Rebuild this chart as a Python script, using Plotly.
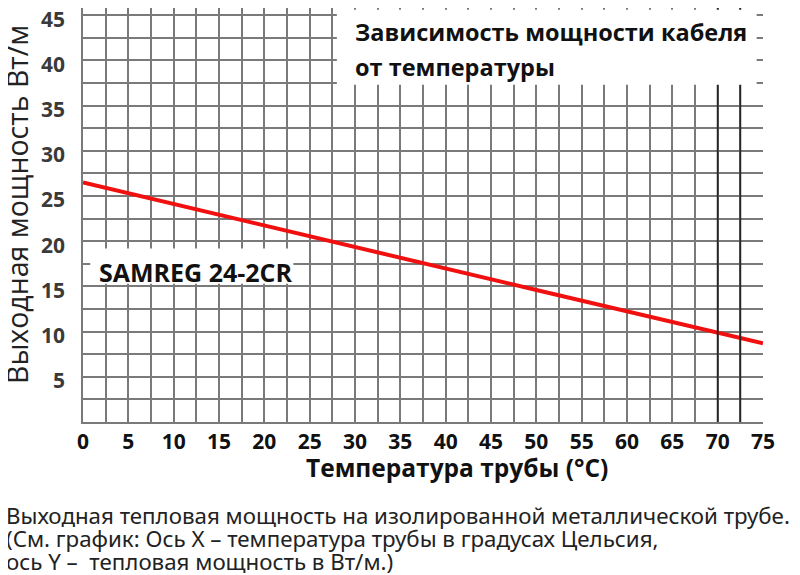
import plotly.graph_objects as go

# Data
temps = [0, 25, 50, 75]
power = [26.5, 20.5, 14.6, 8.7]
x_ticks = [0, 5, 10, 15, 20, 25, 30, 35, 40, 45, 50, 55, 60, 65, 70, 75]
y_ticks = [5, 10, 15, 20, 25, 30, 35, 40, 45]
dark_lines = [70, 72.5]

title_lines = ["Зависимость мощности кабеля", "от температуры"]
series_label = "SAMREG 24-2CR"
x_title = "Температура трубы (°C)"
y_title = "Выходная мощность Вт/м"
note_lines = [
    "Выходная тепловая мощность на изолированной металлической трубе.",
    "(См. график: Ось X – температура трубы в градусах Цельсия,",
    "ось Y –  тепловая мощность в Вт/м.)",
]

GRID = "#7a7a7a"
BOLD = "Open Sans"

# page geometry (page has 8px body offset)
PL, PR, PB, PT = 83, 763, 422, 8
PW, PH = PR - PL, PB - PT


def px(x):
    return (x - PL) / PW


def py(y):
    return (PB - y) / PH


fig = go.Figure()
fig.add_trace(go.Scatter(x=temps, y=power, mode="lines",
                         line=dict(color="#f01010", width=4), showlegend=False,
                         hoverinfo="skip"))

for xv in dark_lines:
    fig.add_shape(type="line", x0=xv, x1=xv, y0=0, y1=1, yref="y domain",
                  line=dict(color="#262626", width=1.8), layer="above")

# white boxes behind texts
fig.add_shape(type="rect", x0=28.0, x1=74.3, y0=37.3, y1=45.6,
              fillcolor="white", line=dict(width=0), layer="above")
fig.add_shape(type="rect", x0=0.8, x1=23.2, y0=15.3, y1=19.2,
              fillcolor="white", line=dict(width=0), layer="above")

fig.add_annotation(x=29.8, y=43.1, text=title_lines[0], showarrow=False,
                   xanchor="left", yanchor="middle",
                   font=dict(family=BOLD, size=23.5, color="#111111", weight="bold"))
fig.add_annotation(x=29.8, y=39.3, text=title_lines[1], showarrow=False,
                   xanchor="left", yanchor="middle",
                   font=dict(family=BOLD, size=23.5, color="#111111", weight="bold"))
fig.add_annotation(x=1.55, y=16.6, text=series_label, showarrow=False,
                   xanchor="left", yanchor="middle",
                   font=dict(family=BOLD, size=25, color="#111111", weight="bold"))

# axis titles
fig.add_annotation(xref="paper", yref="paper", x=px(457), y=py(467),
                   text=x_title, showarrow=False,
                   xanchor="center", yanchor="middle",
                   font=dict(family=BOLD, size=24.5, color="#111111", weight="bold"))
fig.add_annotation(xref="paper", yref="paper", x=px(17), y=py(205),
                   text=y_title, showarrow=False, textangle=-90,
                   xanchor="center", yanchor="middle",
                   font=dict(family="Open Sans", size=28.5, color="#222222"))

# bottom note
for i, line in enumerate(note_lines):
    fig.add_annotation(xref="paper", yref="paper", x=px(4),
                       y=py(515 + 23 * i),
                       text=line, showarrow=False, xanchor="left", yanchor="middle",
                       font=dict(family="Noto Sans", size=22.3, color="#222222"))

fig.update_xaxes(range=[0, 75], tickvals=x_ticks, ticktext=[str(v) for v in x_ticks],
                 showgrid=True, gridcolor=GRID, gridwidth=1.5,
                 minor=dict(dtick=2.5, showgrid=True, gridcolor=GRID, gridwidth=1.5),
                 showline=True, linecolor=GRID, linewidth=1.5, zeroline=False,
                 ticks="", automargin=False,
                 tickfont=dict(family=BOLD, size=21, color="#111111", weight="bold"),
                 fixedrange=True)
fig.update_yaxes(range=[0, (PB - PT) / 9.04], tickvals=y_ticks,
                 ticktext=[str(v) for v in y_ticks],
                 showgrid=True, gridcolor=GRID, gridwidth=1.5,
                 minor=dict(dtick=2.5, showgrid=True, gridcolor=GRID, gridwidth=1.5),
                 showline=True, linecolor=GRID, linewidth=1.5, zeroline=False,
                 ticks="outside", ticklen=12, tickcolor="rgba(0,0,0,0)",
                 ticklabelshift=4, ticklabeloverflow="allow", automargin=False,
                 tickfont=dict(family=BOLD, size=21, color="#3a3a3a", weight="bold"),
                 fixedrange=True)

fig.update_layout(width=800, height=575,
                  margin=dict(l=PL - 8, r=808 - PR, t=0, b=575 - (PB - 8)),
                  plot_bgcolor="white", paper_bgcolor="white", showlegend=False)

fig.write_html("out.html")
